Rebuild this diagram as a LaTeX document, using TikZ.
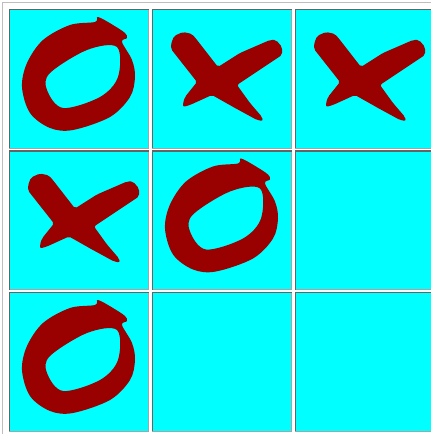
\documentclass[tikz,border=0pt]{standalone}
\usepackage{xcolor}
\definecolor{cellcyan}{RGB}{0,255,255}
\definecolor{markred}{RGB}{153,0,0}
\definecolor{edgedark}{RGB}{100,100,100}
\definecolor{edgelight}{RGB}{165,165,165}
\definecolor{tableedge}{RGB}{190,190,190}
\usepackage{tikz}
\usetikzlibrary{positioning}

\begin{document}
\begin{tikzpicture}[
  x=1pt, y=1pt,
  node distance=2.5pt and 4pt,
  cell/.style={draw=edgelight, fill=cellcyan, line width=1pt, minimum width=139pt, minimum height=139pt, inner sep=0pt, outer sep=0pt},
  inset/.style={draw=edgedark, line width=1.5pt},
  ring/.pic={
    \fill[markred, even odd rule]
      plot[smooth cycle, tension=0.55] coordinates {(19,62) (34,54) (46,46) (48,41) (43,37) (53,19) (56,2) (51,-18) (31,-38) (-6,-51) (-29,-49) (-49,-34) (-57,-8) (-52,16) (-36,39) (-9,54) (16,57)}
      plot[smooth cycle, tension=0.55] coordinates {(-29,6) (8,29) (38,32) (39,2) (21,-18) (-16,-29) (-32,-11)};
  },
  cross/.pic={
    \fill[markred, rounded corners=2pt] (-51,35) -- (-48,43) -- (-39,47) -- (-30,45) -- (-25,39) -- (-4,12) -- (18,26) -- (48,39) -- (54,39) -- (60,32) -- (60,24) -- (48,16) -- (15,-6) -- (28,-24) -- (40,-38) -- (41,-42) -- (35,-41) -- (13,-29) -- (-10,-16) -- (-32,-26) -- (-39,-28) -- (-39,-24) -- (-37,-18) -- (-25,-3) -- (-51,30) -- cycle;
  }
]
\useasboundingbox (0,0) rectangle (431,434);
\draw[tableedge, line width=1pt] (2.5,0) |- (431,431.5);
\node[cell] (c11) at (79,355) {};
\node[cell, right=of c11] (c12) {};
\node[cell, right=of c12] (c13) {};
\node[cell, below=of c11] (c21) {};
\node[cell, right=of c21] (c22) {};
\node[cell, right=of c22] (c23) {};
\node[cell, below=of c21] (c31) {};
\node[cell, right=of c31] (c32) {};
\node[cell, right=of c32] (c33) {};
\foreach \c in {c11,c12,c13,c21,c22,c23,c31,c32,c33}
  \draw[inset] (\c.south west) |- (\c.north east);
\pic at (c11.center) {ring};
\pic at (c12.center) {cross};
\pic at (c13.center) {cross};
\pic at (c21.center) {cross};
\pic at (c22.center) {ring};
\pic at (c31.center) {ring};
\end{tikzpicture}
\end{document}
